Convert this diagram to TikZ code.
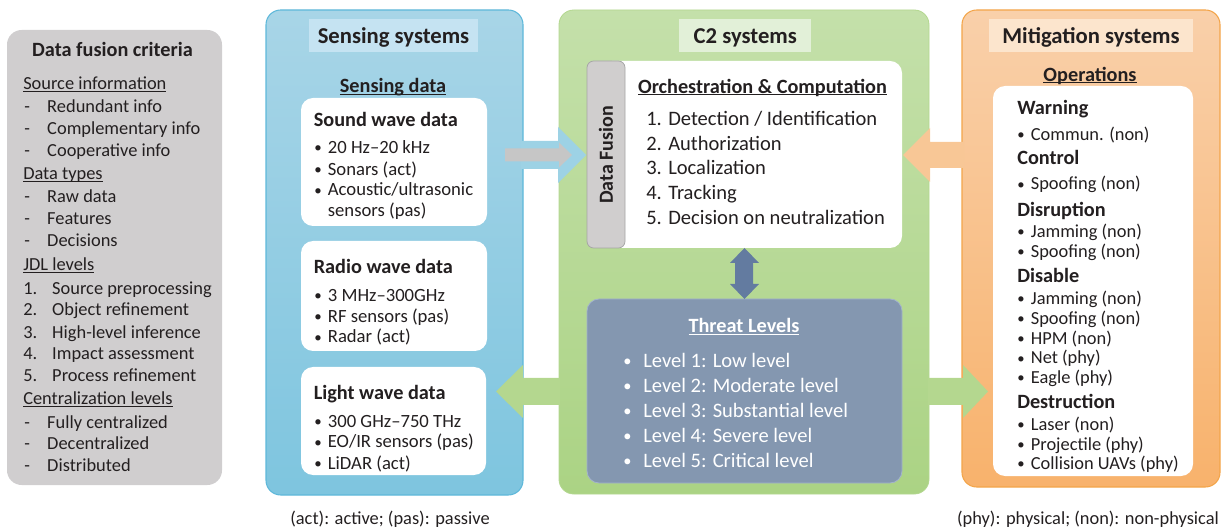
\documentclass[tikz,border=0pt]{standalone}
\usepackage{fontspec}
\setmainfont{Carlito}
\usetikzlibrary{fit}
\definecolor{txt}{HTML}{231F20}
\definecolor{critgray}{HTML}{D0CECF}
\definecolor{blueTop}{HTML}{A8D5E7}
\definecolor{blueBot}{HTML}{7EC5DF}
\definecolor{blueBorder}{HTML}{5EB8DA}
\definecolor{blueTitle}{HTML}{C5E3F2}
\definecolor{greenTop}{HTML}{C4E0AA}
\definecolor{greenBot}{HTML}{ABD384}
\definecolor{greenBorder}{HTML}{B3D78F}
\definecolor{greenTitle}{HTML}{E2F0D8}
\definecolor{orangeTop}{HTML}{F9D0AA}
\definecolor{orangeBot}{HTML}{F8B26C}
\definecolor{orangeBorder}{HTML}{F3A54A}
\definecolor{orangeTitle}{HTML}{FCE5CD}
\definecolor{threat}{HTML}{8497B0}
\definecolor{threatBorder}{HTML}{A3B3CD}
\definecolor{tabgray}{HTML}{D0CECE}
\definecolor{tabBorder}{HTML}{A6A6A6}
\definecolor{arrBlue}{HTML}{9DD2E5}
\definecolor{arrGray}{HTML}{C6C6C6}
\definecolor{arrGreen}{HTML}{B4D78F}
\definecolor{arrOrange}{HTML}{F8C796}
\definecolor{arrSlate}{HTML}{637BA0}
\newcounter{tn}
\newcommand\tl[3][]{\stepcounter{tn}\node[body,#1] (t\arabic{tn}) at (#2) {#3};}
\newcommand\ulx[1]{\setbox0\hbox{#1}\rlap{\rule[-1.7pt]{\wd0}{0.8pt}}\box0}
\newcommand\sbul{\raisebox{0.6pt}{\scalebox{0.8}{\textbullet}}}
\newcommand\dsh{\makebox[17.25pt][l]{-}}
\newcommand\nm[1]{\makebox[21.75pt][l]{#1}}
\newcommand\bul{\makebox[10.2pt][l]{\sbul}}
\newcommand\nobul{\makebox[10.2pt][l]{}}
\newcommand\mbul{\makebox[10.2pt][l]{\sbul}}
\newcommand\onum[1]{\makebox[16.5pt][l]{#1}}
\newcommand\tbul{\makebox[16.5pt][l]{\hspace{1.5pt}\sbul}}
\tikzset{
  body/.style={anchor=base west, inner sep=0pt, text=txt, font=\fontsize{13.8}{16}\selectfont},
  hd/.style={font=\fontsize{15.2}{18}\selectfont\bfseries},
  ctr/.style={anchor=base},
  ptitle/.style={anchor=base, font=\fontsize{17}{20}\selectfont\bfseries},
  item/.style={font=\fontsize{15.4}{18}\selectfont},
  sitem/.style={font=\fontsize{14}{16}\selectfont},
  mitem/.style={font=\fontsize{13.8}{16}\selectfont},
  panel/.style={inner sep=0pt, rounded corners=11pt},
  wbox/.style={inner sep=0pt, rounded corners=9pt, fill=white},
  tbox/.style={inner sep=0pt},
}
\begin{document}
\begin{tikzpicture}[x=0.75pt,y=-0.75pt]
\useasboundingbox (0,0) rectangle (1227,530);
% panels
\node[panel, fit={(7,30)(222,485)}, fill=critgray] (crit) {};
\node[panel, fit={(266,10)(523,495)}, top color=blueTop, bottom color=blueBot, draw=blueBorder, line width=0.8pt] (sens) {};
\node[panel, fit={(559,10)(929,494)}, top color=greenTop, bottom color=greenBot, draw=greenBorder, line width=0.6pt] (c2) {};
\node[panel, fit={(962,10)(1220,487)}, top color=orangeTop, bottom color=orangeBot, draw=orangeBorder, line width=0.8pt] (mit) {};
% title boxes
\node[tbox, fit={(309,19)(478,52)}, fill=blueTitle] (sensT) {};
\node[tbox, fit={(679,19)(811,52)}, fill=greenTitle] (c2T) {};
\node[tbox, fit={(989,19)(1193,52)}, fill=orangeTitle] (mitT) {};
% inner boxes
\node[wbox, fit={(301,98)(487,226)}] (sound) {};
\node[wbox, fit={(301,241)(487,351)}] (radio) {};
\node[wbox, fit={(301,367)(486,475)}] (light) {};
\node[wbox, fit={(600,61)(902,248)}] (orch) {};
\node[inner sep=0pt, rounded corners=5pt, fit={(587,61)(625,248)}, fill=tabgray, draw=tabBorder, line width=0.6pt] (fusion) {};
\node[wbox, fit={(587,299)(902,483)}, fill=threat, draw=threatBorder, line width=0.6pt] (levels) {};
\node[wbox, fit={(993,86)(1193,476)}] (ops) {};
% block arrows
\fill[arrBlue] (521,141) -- (558,141) -- (558,127) -- (586,155) -- (558,183) -- (558,169) -- (521,169) -- cycle;
\fill[arrGray] (505,148.5) -- (559,148.5) -- (559,142.5) -- (572,155) -- (559,167.5) -- (559,161.5) -- (505,161.5) -- cycle;
\fill[arrOrange] (964,142) -- (930,142) -- (930,128) -- (903,155) -- (930,182) -- (930,168) -- (964,168) -- cycle;
\fill[arrGreen] (560,378) -- (523,378) -- (523,365) -- (496,391.5) -- (523,418) -- (523,405) -- (560,405) -- cycle;
\fill[arrGreen] (928,378) -- (963,378) -- (963,365) -- (988,391.5) -- (963,418) -- (963,405) -- (928,405) -- cycle;
\fill[arrSlate] (744.5,248) -- (759,263) -- (753,263) -- (753,284) -- (759,284) -- (744.5,299) -- (730,284) -- (735,284) -- (735,263) -- (730,263) -- cycle;
% Data fusion criteria
\tl[ctr,hd]{112.5,56.7}{Data fusion criteria}
\tl{23,90}{\ulx{Source information}}
\tl{24,112.7}{\dsh Redundant info}
\tl{24,135}{\dsh Complementary info}
\tl{24,156.7}{\dsh Cooperative info}
\tl{23,180}{\ulx{Data types}}
\tl{24,202.7}{\dsh Raw data}
\tl{24,224.3}{\dsh Features}
\tl{24,246.7}{\dsh Decisions}
\tl{23,270.7}{\ulx{JDL levels}}
\tl{23,295}{\nm{1.}Source preprocessing}
\tl{23,316}{\nm{2.}Object refinement}
\tl{23,338.3}{\nm{3.}High-level inference}
\tl{23,360}{\nm{4.}Impact assessment}
\tl{23,381.7}{\nm{5.}Process refinement}
\tl{23,405}{\ulx{Centralization levels}}
\tl{24,428.3}{\dsh Fully centralized}
\tl{24,450}{\dsh Decentralized}
\tl{24,471.7}{\dsh Distributed}
% Sensing systems
\tl[ptitle]{393.5,44}{Sensing systems}
\tl[ctr,hd]{393,93}{\ulx{Sensing data}}
\tl[hd]{313.5,126.8}{Sound wave data}
\tl[sitem]{314,153.8}{\bul 20 Hz--20 kHz}
\tl[sitem]{314,175.1}{\bul Sonars (act)}
\tl[sitem]{314,196}{\bul Acoustic/ultrasonic}
\tl[sitem]{314,216.3}{\nobul sensors (pas)}
\tl[hd]{313.5,273.8}{Radio wave data}
\tl[sitem]{314,301.5}{\bul 3 MHz--300GHz}
\tl[sitem]{314,322.1}{\bul RF sensors (pas)}
\tl[sitem]{314,343}{\bul Radar (act)}
\tl[hd]{313.5,399.8}{Light wave data}
\tl[sitem]{314,427.6}{\bul 300 GHz--750 THz}
\tl[sitem]{314,447.9}{\bul EO/IR sensors (pas)}
\tl[sitem]{314,469.2}{\bul LiDAR (act)}
\tl[ctr]{390,524}{(act): active; (pas): passive}
% C2 systems
\tl[ptitle]{745.3,43.8}{C2 systems}
\node[inner sep=0pt, text=txt, rotate=90, font=\fontsize{15}{18}\selectfont\bfseries] (fusionT) at (606,155) {Data Fusion};
\tl[ctr,hd]{762.5,93.2}{\ulx{Orchestration \& Computation}}
\tl[item]{646,125.8}{\onum{1.}Detection / Identification}
\tl[item]{646,150.3}{\onum{2.}Authorization}
\tl[item]{646,175}{\onum{3.}Localization}
\tl[item]{646,200}{\onum{4.}Tracking}
\tl[item]{646,225}{\onum{5.}Decision on neutralization}
\tl[ctr,hd,text=white]{744,332.5}{\ulx{Threat Levels}}
\tl[item,text=white]{621,367.5}{\tbul Level 1: Low level}
\tl[item,text=white]{621,392.5}{\tbul Level 2: Moderate level}
\tl[item,text=white]{621,417.5}{\tbul Level 3: Substantial level}
\tl[item,text=white]{621,442.5}{\tbul Level 4: Severe level}
\tl[item,text=white]{621,467.5}{\tbul Level 5: Critical level}
% Mitigation systems
\tl[ptitle]{1091,43.3}{Mitigation systems}
\tl[ctr,hd]{1090,81.1}{\ulx{Operations}}
\tl[hd]{1017,114.9}{Warning}
\tl[mitem]{1017,140.2}{\mbul Commun. (non)}
\tl[hd]{1017,164.6}{Control}
\tl[mitem]{1017,189.9}{\mbul Spoofing (non)}
\tl[hd]{1017,216.3}{Disruption}
\tl[mitem]{1017,237.6}{\mbul Jamming (non)}
\tl[mitem]{1017,257.6}{\mbul Spoofing (non)}
\tl[hd]{1017,282.2}{Disable}
\tl[mitem]{1017,304.2}{\mbul Jamming (non)}
\tl[mitem]{1017,324.5}{\mbul Spoofing (non)}
\tl[mitem]{1017,344.1}{\mbul HPM (non)}
\tl[mitem]{1017,364}{\mbul Net (phy)}
\tl[mitem]{1017,383.6}{\mbul Eagle (phy)}
\tl[hd]{1017,409}{Destruction}
\tl[mitem]{1017,430.2}{\mbul Laser (non)}
\tl[mitem]{1017,450.2}{\mbul Projectile (phy)}
\tl[mitem]{1017,469.8}{\mbul Collision UAVs (phy)}
\tl[ctr]{1088,524}{(phy): physical; (non): non-physical}
\end{tikzpicture}
\end{document}
